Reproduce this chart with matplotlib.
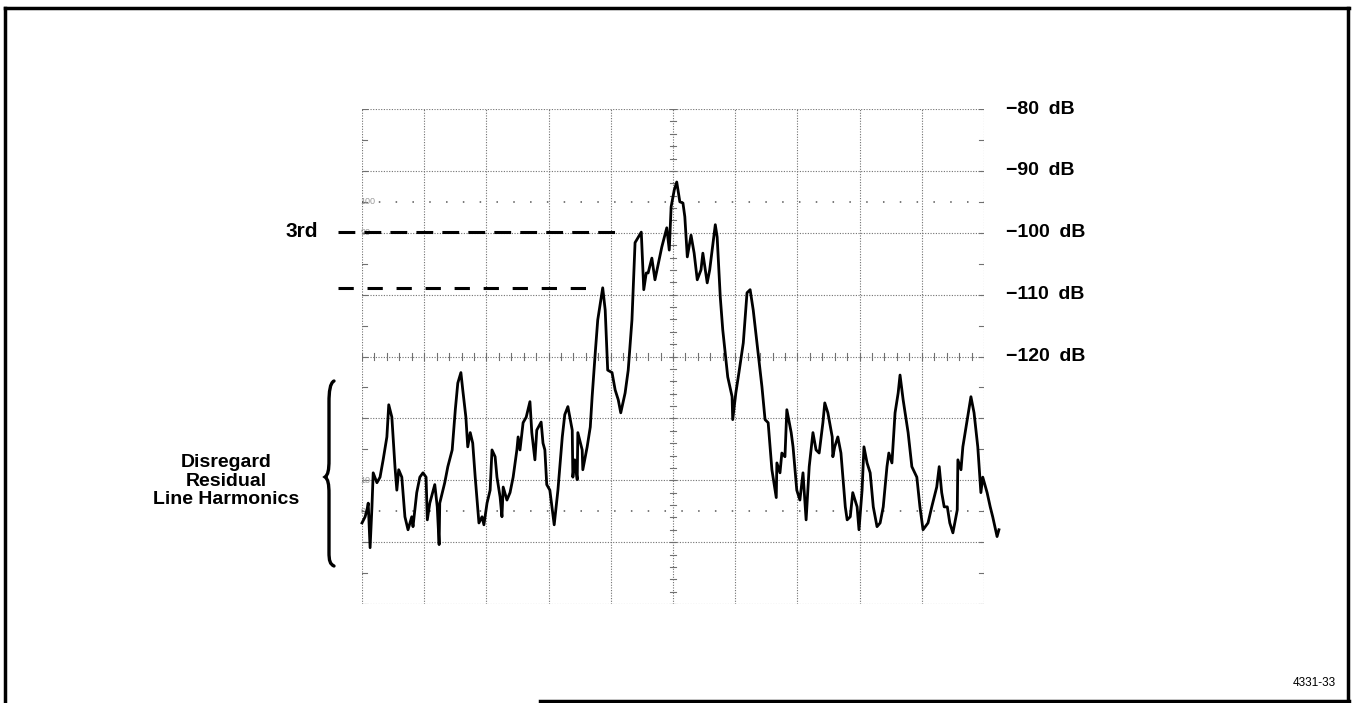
import numpy as np
import matplotlib
matplotlib.use("Agg")
import matplotlib.pyplot as plt
from matplotlib.path import Path
from matplotlib.patches import PathPatch
from matplotlib.lines import Line2D

plt.rcParams['font.family'] = ['Liberation Sans', 'DejaVu Sans']

W, H = 1352, 703

# ---- data: horizontal position in graticule divisions, level in dB ----
freq_div = [0.00, 0.05, 0.08, 0.10, 0.13, 0.16, 0.18, 0.24, 0.29, 0.34,
            0.40, 0.43, 0.48, 0.53, 0.56, 0.59, 0.64, 0.69, 0.74, 0.80,
            0.82, 0.88, 0.93, 0.98, 1.03, 1.05, 1.09, 1.17, 1.21, 1.24,
            1.25, 1.33, 1.38, 1.45, 1.50, 1.54, 1.59, 1.62, 1.67, 1.70,
            1.74, 1.78, 1.82, 1.85, 1.88, 1.93, 1.96, 2.01, 2.06, 2.09,
            2.14, 2.17, 2.22, 2.25, 2.27, 2.33, 2.38, 2.43, 2.49, 2.51,
            2.54, 2.59, 2.64, 2.70, 2.73, 2.78, 2.81, 2.88, 2.91, 2.94,
            2.97, 3.02, 3.09, 3.15, 3.22, 3.26, 3.31, 3.38, 3.39, 3.42,
            3.46, 3.47, 3.54, 3.55, 3.62, 3.67, 3.70, 3.75, 3.79, 3.87,
            3.91, 3.95, 4.02, 4.07, 4.12, 4.16, 4.23, 4.28, 4.34, 4.39,
            4.49, 4.53, 4.57, 4.60, 4.66, 4.71, 4.82, 4.90, 4.94, 4.97,
            5.02, 5.06, 5.11, 5.16, 5.19, 5.23, 5.29, 5.34, 5.39, 5.45,
            5.48, 5.55, 5.59, 5.68, 5.71, 5.76, 5.80, 5.88, 5.95, 5.96,
            6.01, 6.06, 6.13, 6.19, 6.24, 6.29, 6.35, 6.43, 6.48, 6.53,
            6.59, 6.66, 6.67, 6.72, 6.75, 6.80, 6.83, 6.90, 6.93, 6.99,
            7.04, 7.09, 7.14, 7.19, 7.25, 7.30, 7.35, 7.41, 7.44, 7.49,
            7.56, 7.57, 7.60, 7.65, 7.70, 7.77, 7.80, 7.85, 7.89, 7.96,
            7.99, 8.04, 8.07, 8.12, 8.17, 8.22, 8.28, 8.33, 8.38, 8.44,
            8.47, 8.52, 8.57, 8.62, 8.65, 8.70, 8.78, 8.84, 8.92, 8.97,
            9.02, 9.10, 9.16, 9.24, 9.28, 9.32, 9.36, 9.41, 9.45, 9.50,
            9.57, 9.58, 9.63, 9.66, 9.73, 9.79, 9.84, 9.90, 9.95, 9.98,
            10.05, 10.10, 10.14, 10.21, 10.24]

level_db = [-146.9, -145.9, -144.8, -143.7, -150.9, -144.3, -138.8, -140.4, -139.5, -136.7,
            -133.0, -127.8, -129.8, -137.8, -141.6, -138.3, -139.5, -145.9, -148.0, -145.9,
            -147.5, -142.0, -139.5, -138.8, -139.5, -146.4, -143.7, -140.7, -144.3, -150.4,
            -143.7, -140.4, -137.8, -135.1, -128.6, -124.3, -122.6, -125.4, -129.8, -134.6,
            -132.3, -134.0, -139.5, -143.2, -146.9, -145.9, -147.2, -143.7, -141.6, -135.1,
            -136.2, -139.5, -142.7, -145.9, -141.1, -143.2, -142.0, -139.5, -135.1, -133.0,
            -135.1, -130.7, -129.8, -127.3, -132.3, -136.7, -131.9, -130.6, -134.0, -135.1,
            -140.7, -141.6, -147.2, -141.6, -133.0, -129.4, -128.1, -131.9, -139.5, -136.7,
            -139.9, -132.3, -135.1, -138.3, -134.6, -131.4, -126.5, -119.4, -114.1, -108.9,
            -112.5, -122.2, -122.6, -125.4, -127.0, -129.1, -125.9, -122.2, -114.1, -101.6,
            -99.9, -109.2, -106.5, -106.5, -104.1, -107.6, -102.3, -99.2, -102.8, -95.8,
            -93.1, -91.8, -95.0, -95.2, -97.4, -103.9, -100.4, -103.3, -107.6, -106.0,
            -103.3, -108.1, -106.0, -98.7, -100.7, -110.4, -115.7, -123.3, -126.5, -130.2,
            -125.9, -122.6, -117.8, -109.7, -109.2, -112.5, -117.8, -124.9, -130.2, -130.7,
            -138.3, -142.8, -137.2, -138.8, -135.6, -136.2, -128.6, -132.3, -134.6, -141.6,
            -143.2, -138.8, -146.4, -137.8, -132.3, -135.1, -135.6, -130.7, -127.5, -129.1,
            -133.0, -136.2, -134.6, -133.0, -135.6, -144.3, -146.4, -145.9, -142.0, -144.3,
            -148.0, -141.6, -134.6, -137.2, -138.8, -144.3, -147.5, -146.9, -144.3, -137.8,
            -135.6, -137.2, -129.1, -125.9, -123.0, -127.0, -132.3, -137.8, -139.5, -144.3,
            -148.0, -146.9, -144.3, -141.1, -137.8, -142.0, -144.3, -144.3, -146.9, -148.5,
            -144.8, -136.7, -138.3, -134.6, -130.2, -126.5, -129.1, -134.6, -142.0, -139.5,
            -142.0, -144.3, -145.9, -149.1, -148.0]

db_ticks = [-80, -90, -100, -110, -120]
db_labels = ['\u221280\u2002dB', '\u221290\u2002dB', '\u2212100\u2002dB',
             '\u2212110\u2002dB', '\u2212120\u2002dB']
third_level = -99.8      # "3rd" reference level
second_level = -108.9    # second reference level
note_lines = ['Disregard', 'Residual', 'Line Harmonics']
figure_id = '4331-33'

fig = plt.figure(figsize=(W / 100, H / 100), dpi=100)
fig.patch.set_facecolor('white')
ax = fig.add_axes([362 / W, 1 - 604 / H, 622 / W, 495 / H])
ax.set_xlim(0, 10)
ax.set_ylim(-160, -80)
ax.axis('off')

gc = '#707070'
dot = (0, (1, 1.4))
for i in range(11):
    ax.axvline(i, color=gc, lw=0.8, ls=dot, zorder=1)
for j in range(9):
    ax.axhline(-80 - 10 * j, color=gc, lw=0.8, ls=dot, zorder=1)

# minor ticks on centre lines and edges
for k in np.arange(0, 10.001, 0.2):
    ax.plot([k, k], [-120.6, -119.4], color=gc, lw=0.8, zorder=1)
for v in np.arange(-160, -79.99, 2):
    ax.plot([4.95, 5.05], [v, v], color=gc, lw=0.8, zorder=1)
for v in np.arange(-160, -79.99, 5):
    ax.plot([0, 0.08], [v, v], color=gc, lw=0.8, zorder=1)
    ax.plot([9.92, 10], [v, v], color=gc, lw=0.8, zorder=1)

# 0% / 100% dotted rows
for lv in (-95, -145):
    ax.axhline(lv, color='#555555', lw=1.1, ls=(0, (1, 10)), zorder=1)
for txt, lv in (('100', -95), ('90', -100), ('10', -140), ('0', -145)):
    ax.text(-0.02, lv, txt, fontsize=6.5, color='#9a9a9a', ha='left', va='center')

# trace
ax.plot(freq_div, level_db, color='black', lw=2.0, clip_on=False,
        solid_joinstyle='round', zorder=5)

# reference dashed levels
ax.plot([-0.39, 4.20], [third_level, third_level], color='black', lw=2.2,
        dashes=(5.5, 3), clip_on=False, zorder=4)
ax.plot([-0.39, 3.79], [second_level, second_level], color='black', lw=2.2,
        dashes=(5, 4.5), clip_on=False, zorder=4)

yt = ax.get_yaxis_transform()
for v, lab in zip(db_ticks, db_labels):
    ax.text(1.036, v, lab, transform=yt, fontsize=14, fontweight='bold',
            ha='left', va='center')
ax.text(-0.071, third_level, '3rd', transform=yt, fontsize=15, fontweight='bold',
        ha='right', va='center')

def fx(x):
    return x / W

def fy(y):
    return 1 - y / H

fig.text(fx(226), fy(481), '\n'.join(note_lines), fontsize=14, fontweight='bold',
         ha='center', va='center', multialignment='center', linespacing=1.1)

# curly brace
pts = [(334, 381), (330, 383), (329, 392), (329, 402),
       (329, 460), (329, 470), (328, 475), (325, 477),
       (328, 479), (329, 484), (329, 494),
       (329, 552), (329, 561), (330, 564), (334, 566)]
codes = [Path.MOVETO, Path.CURVE4, Path.CURVE4, Path.CURVE4,
         Path.LINETO, Path.CURVE4, Path.CURVE4, Path.CURVE4,
         Path.CURVE4, Path.CURVE4, Path.CURVE4,
         Path.LINETO, Path.CURVE4, Path.CURVE4, Path.CURVE4]
brace = Path([(fx(x), fy(y)) for x, y in pts], codes)
fig.add_artist(PathPatch(brace, transform=fig.transFigure, fill=False,
                         lw=2.4, edgecolor='black', capstyle='round'))

fig.text(fx(1336), fy(683), figure_id, fontsize=8.5, ha='right', va='center')

# frame
frame_kw = dict(transform=fig.transFigure, color='black', lw=2.5)
fig.add_artist(Line2D([fx(5), fx(1349)], [fy(8), fy(8)], **frame_kw))
fig.add_artist(Line2D([fx(5), fx(5)], [fy(8), fy(703)], **frame_kw))
fig.add_artist(Line2D([fx(1348), fx(1348)], [fy(8), fy(703)], **frame_kw))
fig.add_artist(Line2D([fx(540), fx(1349)], [fy(701), fy(701)], **frame_kw))

fig.savefig('out.png', dpi=100)
